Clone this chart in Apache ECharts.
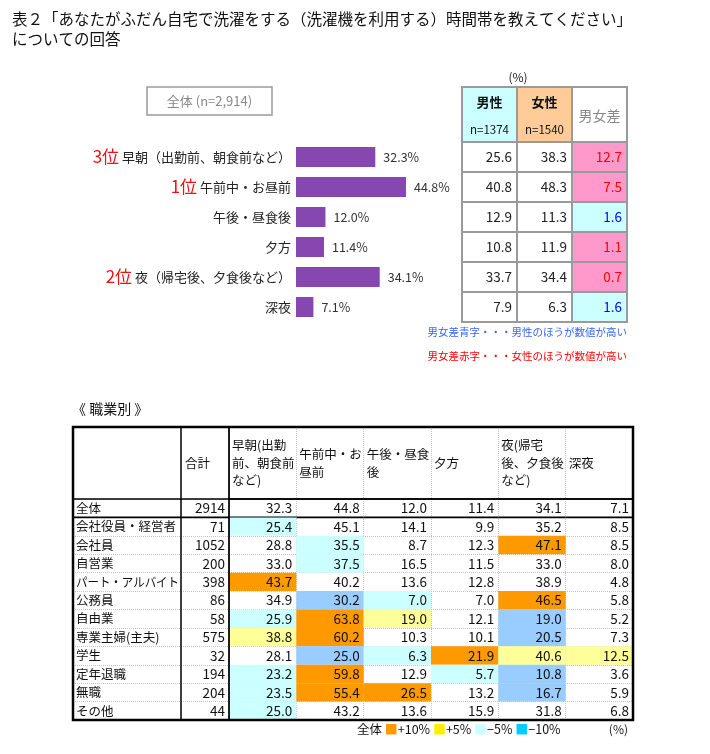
<!DOCTYPE html>
<html><head><meta charset="utf-8">
<script src="https://cdn.jsdelivr.net/npm/echarts@6/dist/echarts.min.js"></script>
<style>html,body{margin:0;padding:0;background:#fff}#c{width:710px;height:754px}</style>
</head><body><div id="c"></div>
<script>
// ---------- data ----------
const timeSlots = ['早朝（出勤前、朝食前など）','午前中・お昼前','午後・昼食後','夕方','夜（帰宅後、夕食後など）','深夜'];
const overallPct = [32.3, 44.8, 12.0, 11.4, 34.1, 7.1];
const malePct = [25.6, 40.8, 12.9, 10.8, 33.7, 7.9];
const femalePct = [38.3, 48.3, 11.3, 11.9, 34.4, 6.3];
const genderHeaders = ['男性', '女性', '男女差'];
const genderN = ['n=1374', 'n=1540', ''];
const tableHeaders = ['早朝(出勤\n前、朝食前\nなど)', '午前中・お\n昼前', '午後・昼食\n後', '夕方', '夜(帰宅\n後、夕食後\nなど)', '深夜'];
const totalHeader = '合計';
const occupations = ['全体','会社役員・経営者','会社員','自営業','パート・アルバイト','公務員','自由業','専業主婦(主夫)','学生','定年退職','無職','その他'];
const occTotals = [2914, 71, 1052, 200, 398, 86, 58, 575, 32, 194, 204, 44];
const occValues = [
  [32.3, 44.8, 12.0, 11.4, 34.1, 7.1],
  [25.4, 45.1, 14.1, 9.9, 35.2, 8.5],
  [28.8, 35.5, 8.7, 12.3, 47.1, 8.5],
  [33.0, 37.5, 16.5, 11.5, 33.0, 8.0],
  [43.7, 40.2, 13.6, 12.8, 38.9, 4.8],
  [34.9, 30.2, 7.0, 7.0, 46.5, 5.8],
  [25.9, 63.8, 19.0, 12.1, 19.0, 5.2],
  [38.8, 60.2, 10.3, 10.1, 20.5, 7.3],
  [28.1, 25.0, 6.3, 21.9, 40.6, 12.5],
  [23.2, 59.8, 12.9, 5.7, 10.8, 3.6],
  [23.5, 55.4, 26.5, 13.2, 16.7, 5.9],
  [25.0, 43.2, 13.6, 15.9, 31.8, 6.8]
];

// ---------- helpers ----------
const FF = '"Noto Sans CJK JP", "Noto Sans", sans-serif';
const f = (size, w) => (w ? w + ' ' : '') + size + 'px ' + FF;
const mctx = document.createElement('canvas').getContext('2d');
const measure = (text, font) => { mctx.font = font; return mctx.measureText(text).width; };

const sorted = overallPct.slice().sort((a, b) => b - a);
const rankOf = v => { const r = sorted.indexOf(v) + 1; return r <= 3 ? r : 0; };

function makeRender(cells) {
  return function (params, api) {
    const cell = cells[params.dataIndex];
    const c = api.coord([api.value(0), api.value(1)]);
    const s = api.size([1, 1]);
    const l = c[0] - s[0] / 2, t = c[1] - s[1] / 2, w = s[0], h = s[1];
    const ins = cell.inset || 0;
    const ch = [];
    if (cell.fill) ch.push({ type: 'rect', shape: { x: l + ins, y: t + ins, width: w - 2 * ins, height: h - 2 * ins }, style: { fill: cell.fill } });
    (cell.texts || []).forEach(tx => {
      const pad = tx.pad == null ? 4 : tx.pad;
      const x = tx.align === 'right' ? l + w - pad : tx.align === 'center' ? l + w / 2 : l + pad;
      let sx = 1;
      if (tx.fit) { const tw = measure(tx.text, tx.font); const maxW = w - pad - 2; if (tw > maxW) sx = maxW / tw; }
      ch.push({ type: 'text', x: x, y: t + h * (tx.frac == null ? 0.5 : tx.frac), scaleX: sx,
        style: { text: tx.text, x: 0, y: 0, align: tx.align || 'left', verticalAlign: 'middle', font: tx.font, fill: tx.color || '#111', lineHeight: tx.lineHeight || 16 } });
    });
    if (cell.rule) ch.push({ type: 'line', shape: { x1: l, y1: t + h, x2: l + w, y2: t + h }, style: { stroke: '#000', lineWidth: 1.6 } });
    return { type: 'group', children: ch };
  };
}
function cellSeries(idx, cells, z) {
  return { type: 'custom', xAxisIndex: idx, yAxisIndex: idx, z: z || 2, silent: true,
    data: cells.map(c => [c.x, c.y]), renderItem: makeRender(cells) };
}

// ---------- cells ----------
const gHead = genderHeaders.map((g, i) => ({ x: i, y: 0, inset: 1,
  fill: i === 0 ? '#CCFFFF' : i === 1 ? '#FFCC99' : null,
  texts: i < 2 ? [{ text: g, align: 'center', frac: 0.28, font: f(13, 'bold'), color: '#111' },
                  { text: genderN[i], align: 'center', frac: 0.77, font: f(11.5), color: '#111' }]
               : [{ text: g, align: 'center', frac: 0.52, font: f(14), color: '#888' }] }));
const gBody = [];
timeSlots.forEach((t, r) => {
  const d = +(femalePct[r] - malePct[r]).toFixed(1);
  gBody.push({ x: 0, y: r, texts: [{ text: malePct[r].toFixed(1), align: 'right', pad: 5, font: f(13.5), color: '#222' }] });
  gBody.push({ x: 1, y: r, texts: [{ text: femalePct[r].toFixed(1), align: 'right', pad: 5, font: f(13.5), color: '#222' }] });
  gBody.push({ x: 2, y: r, inset: 1, fill: d > 0 ? '#FF99CC' : '#CCFFFF',
    texts: [{ text: Math.abs(d).toFixed(1), align: 'right', pad: 5, font: f(13.5), color: d > 0 ? '#FF0000' : '#0000FF' }] });
});
const hTotal = [{ x: 0, y: 0, texts: [{ text: totalHeader, align: 'left', pad: 4, font: f(12.5), color: '#111' }] }];
const hData = tableHeaders.map((h, i) => ({ x: i, y: 0, texts: [{ text: h, align: 'left', pad: 3, font: f(12.5), color: '#111', lineHeight: 17.5 }] }));
const colorFor = (v, base) => { const d = v - base; return d >= 10 ? '#FF9900' : d >= 5 ? '#FFFF99' : d <= -10 ? '#99CCFF' : d <= -5 ? '#CCFFFF' : null; };
const bLabel = occupations.map((o, r) => ({ x: 0, y: r, rule: r === 0, texts: [{ text: o, align: 'left', pad: 3, font: f(12.5), color: '#111', fit: true }] }));
const bTotal = occTotals.map((v, r) => ({ x: 0, y: r, rule: r === 0, texts: [{ text: String(v), align: 'right', pad: 4, font: f(13.5), color: '#111' }] }));
const bData = [];
occValues.forEach((row, r) => row.forEach((v, i) => {
  bData.push({ x: i, y: r, rule: r === 0, fill: r === 0 ? null : colorFor(v, occValues[0][i]),
    texts: [{ text: v.toFixed(1), align: 'right', pad: 4, font: f(13.5), color: '#111' }] });
}));

// ---------- layout ----------
const gridBorder = (c, w) => ({ show: true, borderColor: c, borderWidth: w, backgroundColor: 'transparent', z: 10 });
const grids = [
  { left: 296, top: 142, width: 122.75, height: 180 },
  Object.assign({ left: 462, top: 87, width: 165, height: 55 }, gridBorder('#9a9a9a', 2)),
  Object.assign({ left: 462, top: 142, width: 165, height: 180 }, gridBorder('#9a9a9a', 2)),
  Object.assign({ left: 73, top: 427, width: 108, height: 72 }, gridBorder('#000', 1)),
  Object.assign({ left: 181, top: 427, width: 48, height: 72 }, gridBorder('#000', 1)),
  Object.assign({ left: 229, top: 427, width: 404, height: 72 }, gridBorder('#000', 1.5)),
  Object.assign({ left: 73, top: 499, width: 108, height: 221 }, gridBorder('#000', 1)),
  Object.assign({ left: 181, top: 499, width: 48, height: 221 }, gridBorder('#000', 1)),
  Object.assign({ left: 229, top: 499, width: 404, height: 221 }, gridBorder('#000', 1.5))
];
const hidden = { axisLine: { show: false }, axisTick: { show: false }, axisLabel: { show: false } };
function cat(idx, data, split, inverse) {
  return Object.assign({ type: 'category', gridIndex: idx, data: data, inverse: !!inverse,
    splitLine: split ? { show: true, interval: 0, lineStyle: split } : { show: false } }, hidden);
}
const gSplit = { color: '#9a9a9a', width: 2, type: 'solid' };
const dSplit = { color: '#c4c4c4', width: 1, type: [1, 1] };

const xAxes = [
  { type: 'value', gridIndex: 0, min: 0, max: 50, show: false },
  cat(1, genderHeaders, gSplit), cat(2, genderHeaders, gSplit),
  cat(3, ['label']), cat(4, [totalHeader]), cat(5, tableHeaders, dSplit),
  cat(6, ['label']), cat(7, [totalHeader]), cat(8, tableHeaders, dSplit)
];
const yAxes = [
  { type: 'category', gridIndex: 0, data: timeSlots, inverse: true,
    axisLine: { show: false }, axisTick: { show: false },
    axisLabel: { margin: 5, fontFamily: FF, fontSize: 13, color: '#222',
      formatter: (v, i) => { const r = rankOf(overallPct[i]); return r ? '{r|' + r + '位} ' + v : v; },
      rich: { r: { color: '#EE1111', fontSize: 17, fontFamily: FF } } } },
  cat(1, ['h']), cat(2, timeSlots, gSplit, true),
  cat(3, ['h']), cat(4, ['h']), cat(5, ['h']),
  cat(6, occupations, dSplit, true), cat(7, occupations, dSplit, true), cat(8, occupations, dSplit, true)
];

const series = [
  { type: 'bar', xAxisIndex: 0, yAxisIndex: 0, data: overallPct, barWidth: 20,
    itemStyle: { color: '#8747B0' }, silent: true,
    label: { show: true, position: 'right', distance: 8, fontFamily: FF, fontSize: 12.5, color: '#333',
      formatter: p => p.value.toFixed(1) + '%' } },
  cellSeries(1, gHead), cellSeries(2, gBody),
  cellSeries(4, hTotal), cellSeries(5, hData),
  cellSeries(6, bLabel), cellSeries(7, bTotal), cellSeries(8, bData)
];

const graphic = [
  { type: 'text', left: 12, top: 11, style: { text: '表２「あなたがふだん自宅で洗濯をする（洗濯機を利用する）時間帯を教えてください」', font: f(15.5), fill: '#111' } },
  { type: 'text', left: 12, top: 31, style: { text: 'についての回答', font: f(15.5), fill: '#111' } },
  { type: 'rect', shape: { x: 147, y: 87, width: 125, height: 28 }, style: { fill: '#fff', stroke: '#9a9a9a', lineWidth: 1.5 } },
  { type: 'text', x: 209.5, y: 101, style: { text: '全体 (n=2,914)', font: f(13), fill: '#888', align: 'center', verticalAlign: 'middle' } },
  { type: 'text', x: 518, y: 77, style: { text: '(%)', font: f(12), fill: '#222', align: 'center', verticalAlign: 'middle' } },
  { type: 'text', x: 627, y: 332, style: { text: '男女差青字・・・男性のほうが数値が高い', font: f(10.5), fill: '#3366FF', align: 'right', verticalAlign: 'middle' } },
  { type: 'text', x: 627, y: 356, style: { text: '男女差赤字・・・女性のほうが数値が高い', font: f(10.5), fill: '#FF0000', align: 'right', verticalAlign: 'middle' } },
  { type: 'text', x: 72, y: 409, style: { text: '《 職業別 》', font: f(14), fill: '#111', verticalAlign: 'middle' } },
  { type: 'rect', z: 100, shape: { x: 73, y: 427, width: 560, height: 293 }, style: { fill: 'transparent', stroke: '#000', lineWidth: 2.5 } },
  { type: 'text', x: 357, y: 729, style: { text: '全体 {o|■}+10% {y|■}+5% {c|■}−5% {b|■}−10%', font: f(12.5), fill: '#111', verticalAlign: 'middle',
      rich: { o: { fill: '#FF9900', font: f(13) }, y: { fill: '#FFEE00', font: f(13) }, c: { fill: '#CCFFFF', font: f(13) }, b: { fill: '#00CCFF', font: f(13) } } } },
  { type: 'text', x: 628, y: 729, style: { text: '(%)', font: f(12), fill: '#222', align: 'right', verticalAlign: 'middle' } }
];

const chart = echarts.init(document.getElementById('c'), null, { renderer: 'canvas' });
chart.setOption({ animation: false, backgroundColor: '#fff', grid: grids, xAxis: xAxes, yAxis: yAxes, series: series, graphic: graphic });
</script></body></html>
